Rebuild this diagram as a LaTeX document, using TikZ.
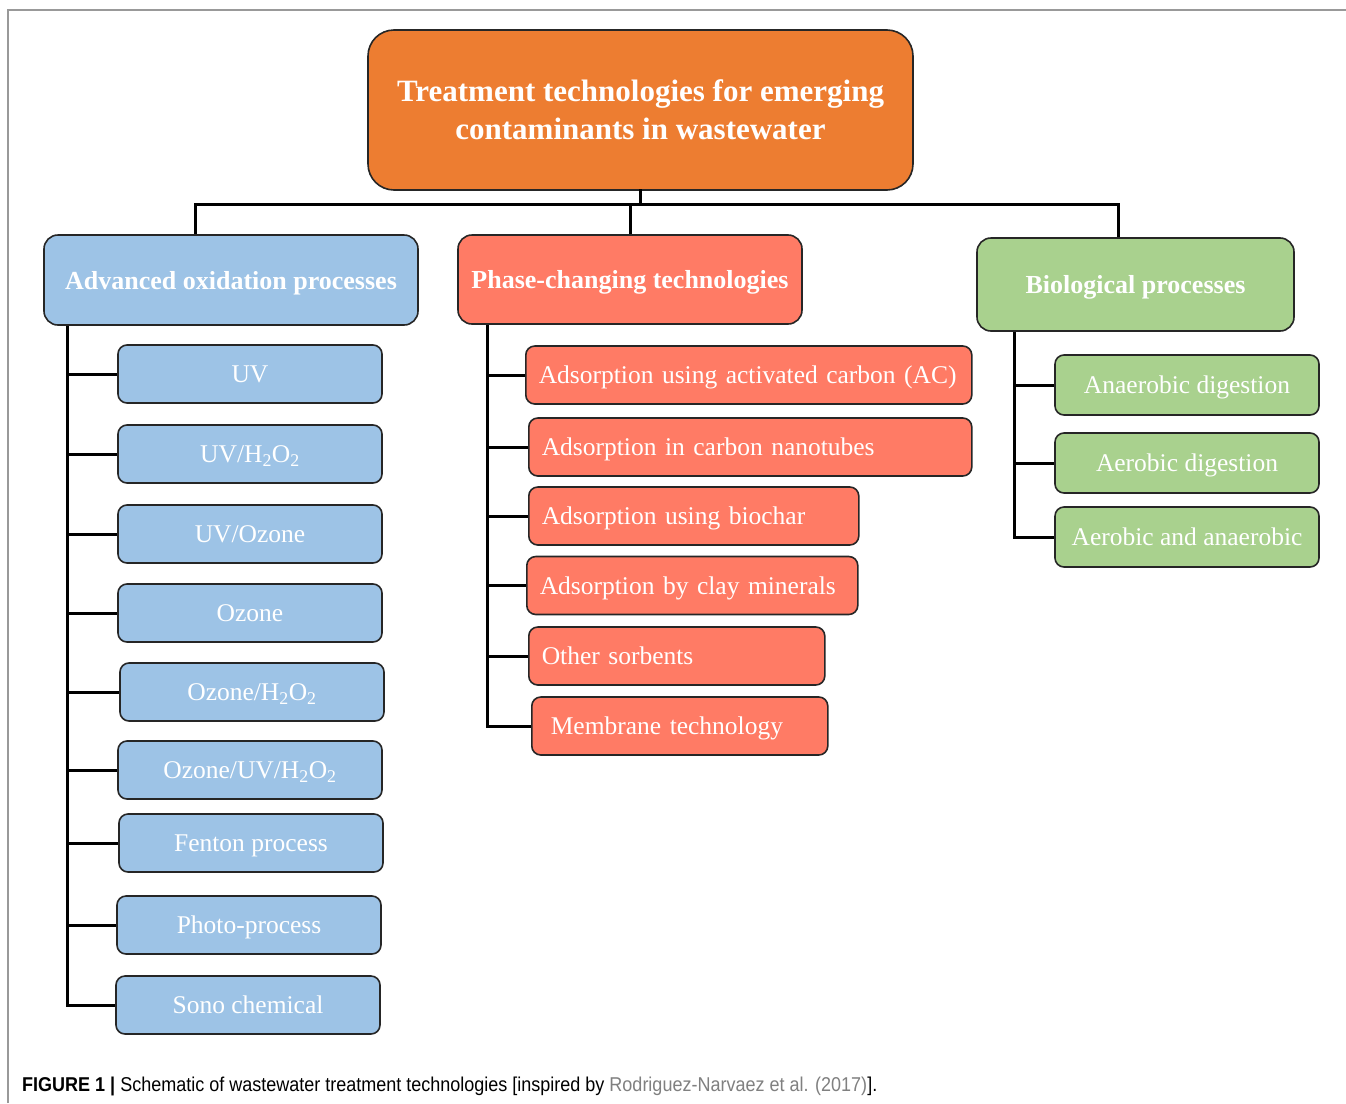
\documentclass[tikz,border=0pt]{standalone}
\usepackage{fontspec}
\setmainfont{Liberation Serif}
\newfontfamily\capfont[FakeStretch=0.9]{Liberation Sans}
\begin{document}
\begin{tikzpicture}[x=1pt,y=-1pt,
  conn/.style={line width=3pt,black,line cap=rect},
  base/.style={draw=black!85,line width=1.6pt,text=white,inner sep=0pt},
  rootbox/.style={base,fill=rootc,rounded corners=26pt,minimum width=545pt,minimum height=160pt,
     align=center,font=\bfseries\fontsize{31}{38}\selectfont},
  headbox/.style={base,rounded corners=14pt,minimum height=90pt,text depth=0pt,font=\bfseries\fontsize{26}{30}\selectfont},
  kid/.style={base,rounded corners=9pt,minimum height=58pt,text depth=0pt,font=\fontsize{25.5}{30}\selectfont},
  kidc/.style={kid,minimum width=264pt},
  kidl/.style={kid,anchor=west,align=left,inner xsep=13pt},
]
\definecolor{rootc}{HTML}{ED7D31}
\definecolor{bluec}{HTML}{9DC3E6}
\definecolor{redc}{HTML}{FF7B65}
\definecolor{greenc}{HTML}{A9D18E}
\useasboundingbox (0,0) rectangle (1346,1103);
\fill[white] (0,0) rectangle (1346,1103);
\draw[gray!80,line width=1.2pt] (8,1103) -- (8,10) -- (1346,10);

% root
\node[rootbox] (root) at (640.5,110) {Treatment technologies for emerging\\contaminants in wastewater};

% headers
\node[headbox,fill=bluec,minimum width=374pt] (aop) at (231,280) {Advanced oxidation processes};
\node[headbox,fill=redc,minimum width=344pt,minimum height=89pt] (pct) at (630,279.5) {Phase-changing technologies};
\node[headbox,fill=greenc,minimum width=317pt,minimum height=93pt] (bp) at (1135.5,284.5) {Biological processes};

% AOP children
\node[kidc,fill=bluec] (a1) at (250,374) {UV};
\node[kidc,fill=bluec] (a2) at (250,454) {UV/H\textsubscript{2}O\textsubscript{2}};
\node[kidc,fill=bluec] (a3) at (250,534) {UV/Ozone};
\node[kidc,fill=bluec] (a4) at (250,613) {Ozone};
\node[kidc,fill=bluec] (a5) at (252,692) {Ozone/H\textsubscript{2}O\textsubscript{2}};
\node[kidc,fill=bluec] (a6) at (250,770) {Ozone/UV/H\textsubscript{2}O\textsubscript{2}};
\node[kidc,fill=bluec] (a7) at (251,843) {Fenton process};
\node[kidc,fill=bluec] (a8) at (249,925) {Photo-process};
\node[kidc,fill=bluec] (a9) at (248,1005) {Sono chemical};

% PCT children
\node[kidl,fill=redc,text width=420pt] (p1) at (525,375) {Adsorption using activated carbon (AC)};
\node[kidl,fill=redc,text width=417pt] (p2) at (528,447) {Adsorption in carbon nanotubes};
\node[kidl,fill=redc,text width=304pt] (p3) at (528,516) {Adsorption using biochar};
\node[kidl,fill=redc,text width=305pt] (p4) at (526,585.5) {Adsorption by clay minerals};
\node[kidl,fill=redc,text width=270pt] (p5) at (528,656) {Other sorbents};
\node[kidl,fill=redc,inner xsep=19pt,text width=258pt] (p6) at (531,726) {Membrane technology};

% BP children
\node[kidc,fill=greenc,minimum height=60pt] (b1) at (1187,385) {Anaerobic digestion};
\node[kidc,fill=greenc,minimum height=60pt] (b2) at (1187,463) {Aerobic digestion};
\node[kidc,fill=greenc,minimum height=60pt] (b3) at (1187,537) {Aerobic and anaerobic};

% top connectors
\coordinate (bus) at (0,204);
\coordinate (aopin) at ([xshift=-36pt]aop.north);
\coordinate (bpin) at ([xshift=-17.5pt]bp.north);
\draw[conn] (root.south) -- (root.south |- bus);
\draw[conn,line cap=butt] (aopin) -- (aopin |- bus) -- (bpin |- bus) -- (bpin);
\draw[conn,line cap=butt] (pct.north) -- (pct.north |- bus);

% AOP trunk
\coordinate (ta) at ([xshift=24pt]aop.south west);
\draw[conn,line cap=butt] (ta) |- (a9.west);
\foreach \k in {a1,a2,a3,a4,a5,a6,a7,a8}{\draw[conn,line cap=butt] (ta |- \k.west) -- (\k.west);}

% PCT trunk
\coordinate (tp) at ([xshift=30pt]pct.south west);
\draw[conn,line cap=butt] (tp) |- (p6.west);
\foreach \k in {p1,p2,p3,p4,p5}{\draw[conn,line cap=butt] (tp |- \k.west) -- (\k.west);}

% BP trunk
\coordinate (tb) at ([xshift=38pt]bp.south west);
\draw[conn,line cap=butt] (tb) |- (b3.west);
\foreach \k in {b1,b2}{\draw[conn,line cap=butt] (tb |- \k.west) -- (\k.west);}

% caption
\node[anchor=west,inner sep=0pt,font=\capfont\fontsize{20}{24}\selectfont] (cap) at (22,1086)
  {\textbf{FIGURE 1 |} Schematic of wastewater treatment technologies [inspired by \textcolor{gray}{Rodriguez-Narvaez et al. (2017)}].};
\end{tikzpicture}
\end{document}
